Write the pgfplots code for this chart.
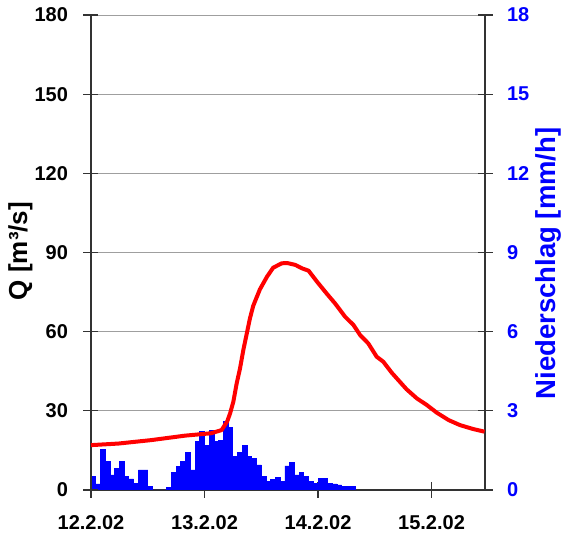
\documentclass[border=0pt]{standalone}
\usepackage{fontspec}
\setmainfont{Liberation Sans}
\usepackage{pgfplots}
\pgfplotsset{compat=1.18}

% hourly rainfall, hours since 12.2.02 0:00 (left edge of each hour)
\pgfplotstableread{
h   r
0   0.53
1   0.23
2   1.52
3   1.07
4   0.57
5   0.83
6   1.07
7   0.53
8   0.42
9   0.25
10  0.76
11  0.76
12  0.13
13  0
14  0
15  0
16  0.10
17  0.66
18  0.88
19  1.07
20  1.41
21  0.76
22  1.83
23  2.21
24  1.70
25  2.27
26  1.83
27  1.89
28  2.59
29  2.37
30  1.26
31  1.41
32  1.70
33  1.26
34  1.20
35  0.95
36  0.53
37  0.34
38  0.40
39  0.48
40  0.34
41  0.91
42  1.03
43  0.57
44  0.66
45  0.53
46  0.34
47  0.25
48  0.44
49  0.44
50  0.25
51  0.23
52  0.19
53  0.15
54  0.15
55  0.15
56  0.15
}\rain

% discharge Q, hours since 12.2.02 0:00
\pgfplotstableread{
h    q
0    17.0
5.8  17.6
12.7 18.9
19.9 20.6
25.4 21.5
27.6 22.7
28.8 26.0
29.4 29.0
30.1 33.5
30.8 40.4
31.5 46.0
32.2 53.0
32.9 59.0
33.6 65.0
34.3 69.8
35.7 76.0
37.2 80.8
38.5 84.2
40.3 85.9
41.5 86.0
43.2 85.3
44.6 84.0
46.0 83.1
47.8 78.9
49.8 74.5
51.6 70.7
53.7 65.7
55.5 62.5
56.9 58.7
58.6 55.6
60.4 50.5
61.8 48.6
63.6 44.4
65.3 41.0
66.7 38.2
68.9 34.7
71.0 32.2
73.1 29.3
75.6 26.5
78.0 24.6
80.8 23.1
83.2 22.1
}\flow

\pgfplotsset{
  common/.style={
    scale only axis,
    width=394pt, height=475pt,
    xmin=0, xmax=83.3,
    tick align=center,
    major tick length=15pt,
    tick style={black!80, line width=1.1pt},
    axis line style={black!80, line width=1.2pt},
    ticklabel style={font=\bfseries\fontsize{20}{24}\selectfont},
    /pgf/number format/assume math mode=true,
    label style={font=\bfseries\fontsize{26}{30}\selectfont},
  }
}

\begin{document}
\begin{tikzpicture}
\path[use as bounding box] (-91pt,-48pt) rectangle (474pt,490pt);

% rainfall on the right axis
\begin{axis}[common,
    axis x line*=bottom,
    axis y line*=right,
    ymin=0, ymax=18,
    ytick={0,3,...,18},
    ymajorgrids,
    grid style={gray!75, line width=0.8pt},
    xtick={0,24,48,72},
    xticklabels={12.2.02,13.2.02,14.2.02,15.2.02},
    xticklabel style={yshift=-15pt},
    yticklabel style={blue, xshift=11pt},
    ylabel={Niederschlag [mm/h]},
    ylabel style={blue, font=\bfseries\fontsize{27.5}{30}\selectfont,
                  at={(axis description cs:1.160,0.477)}, anchor=center},
  ]
  \addplot[const plot, fill=blue, draw=blue, line width=0.8pt] table[x=h, y=r] {\rain} \closedcycle;
\end{axis}

% discharge on the left axis
\begin{axis}[common,
    hide x axis,
    axis y line*=left,
    ymin=0, ymax=180,
    ytick={0,30,...,180},
    yticklabel style={xshift=-12pt},
    ylabel={Q [m³/s]},
    ylabel style={at={(axis description cs:-0.179,0.503)}, anchor=center},
  ]
  \addplot[red, line width=4pt, line join=round] table[x=h, y=q] {\flow};
\end{axis}
\end{tikzpicture}
\end{document}
